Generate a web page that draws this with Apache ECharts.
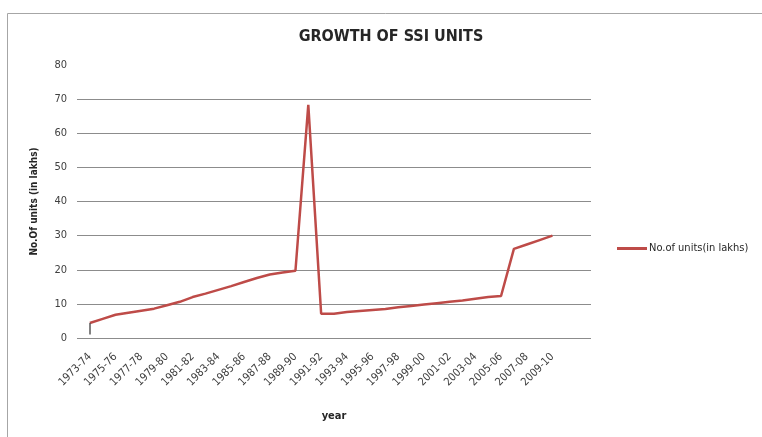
<!DOCTYPE html>
<html>
<head>
<meta charset="utf-8">
<title>Growth of SSI units</title>
<script src="https://cdn.jsdelivr.net/npm/echarts@6/dist/echarts.min.js"></script>
<style>
  html, body { margin: 0; padding: 0; background: #fff; }
  #chart { width: 762px; height: 437px; }
</style>
</head>
<body>
<div id="chart"></div>
<script>
/* DATOS DEL GRAFICO */
var years = [
  "1973-74","1974-75","1975-76","1976-77","1977-78","1978-79","1979-80","1980-81",
  "1981-82","1982-83","1983-84","1984-85","1985-86","1986-87","1987-88","1988-89",
  "1989-90","1990-91","1991-92","1992-93","1993-94","1994-95","1995-96","1996-97",
  "1997-98","1998-99","1999-00","2000-01","2001-02","2002-03","2003-04","2004-05",
  "2005-06","2006-07","2007-08","2008-09","2009-10"
];
var units = [
  4.4, 5.6, 6.8, 7.4, 8.0, 8.6, 9.6, 10.6,
  12.0, 13.0, 14.1, 15.2, 16.4, 17.6, 18.6, 19.2,
  19.7, 68.3, 7.1, 7.1, 7.6, 7.9, 8.2, 8.5,
  9.0, 9.4, 9.8, 10.2, 10.6, 11.0, 11.5, 12.0,
  12.3, 26.1, 27.4, 28.7, 30.0
];
// trazo vertical al inicio de la serie
var startStub = [1, 4.4];
var yTicks = [0, 10, 20, 30, 40, 50, 60, 70, 80];

var fuente = "'DejaVu Sans Condensed', 'Liberation Sans Narrow', 'DejaVu Sans', sans-serif";

/* GRAFICO */
const chartDom = document.getElementById("chart");
const myChart = echarts.init(chartDom);

// lineas de la cuadricula: todas grises menos la de arriba (80)
var gridColors = yTicks.map(function (v) {
  return v === yTicks[yTicks.length - 1] ? "rgba(0,0,0,0)" : "#8c8c8c";
});

const option = {
  backgroundColor: "#fff",
  animation: false,
  graphic: [{
    type: "rect",
    shape: { x: 7.5, y: 13.5, width: 800, height: 500 },
    style: { fill: "none", stroke: "#a6a6a6", lineWidth: 1 }
  }],
  title: {
    text: "GROWTH OF SSI UNITS",
    left: 386,
    top: 24,
    textAlign: "center",
    textStyle: { fontFamily: fuente, fontSize: 16, fontWeight: "bold", color: "#262626" }
  },
  legend: {
    data: [{ name: "No.of units(in lakhs)", icon: "rect" }],
    orient: "vertical",
    left: 612,
    top: 238,
    itemWidth: 30,
    itemHeight: 3,
    textStyle: { fontFamily: fuente, fontSize: 11, color: "#262626", padding: [0, 0, 0, -3] }
  },
  grid: { left: 77, right: 171, top: 65, bottom: 99 },
  xAxis: {
    type: "category",
    data: years,
    boundaryGap: false,
    min: -1,
    max: 39,
    name: "year",
    nameLocation: "middle",
    nameGap: 73,
    nameTextStyle: { fontFamily: fuente, fontSize: 11, fontWeight: "bold", color: "#262626" },
    axisLine: { show: false },
    axisTick: { show: false },
    splitLine: { show: false },
    axisLabel: {
      rotate: 45,
      margin: 17,
      interval: function (index) { return index >= 0 && index % 2 === 0; },
      fontFamily: fuente,
      fontSize: 11,
      color: "#404040"
    }
  },
  yAxis: {
    type: "value",
    min: 0,
    max: 80,
    interval: 10,
    name: "No.Of units (in lakhs)",
    nameLocation: "middle",
    nameGap: 38,
    nameTextStyle: { fontFamily: fuente, fontSize: 10, fontWeight: "bold", color: "#262626" },
    axisLine: { show: false },
    axisTick: { show: false },
    axisLabel: { margin: 10, fontFamily: fuente, fontSize: 11, color: "#404040" },
    splitLine: { show: true, lineStyle: { color: gridColors, width: 1 } }
  },
  series: [{
    name: "No.of units(in lakhs)",
    type: "line",
    data: units,
    symbol: "none",
    lineStyle: { color: "#be4b48", width: 2.5 },
    itemStyle: { color: "#be4b48" },
    markLine: {
      silent: true,
      symbol: "none",
      label: { show: false },
      lineStyle: { color: "#595959", width: 1.5, type: "solid" },
      data: [[
        { coord: [years[0], startStub[0]] },
        { coord: [years[0], startStub[1]] }
      ]]
    }
  }]
};
myChart.setOption(option);
</script>
</body>
</html>
